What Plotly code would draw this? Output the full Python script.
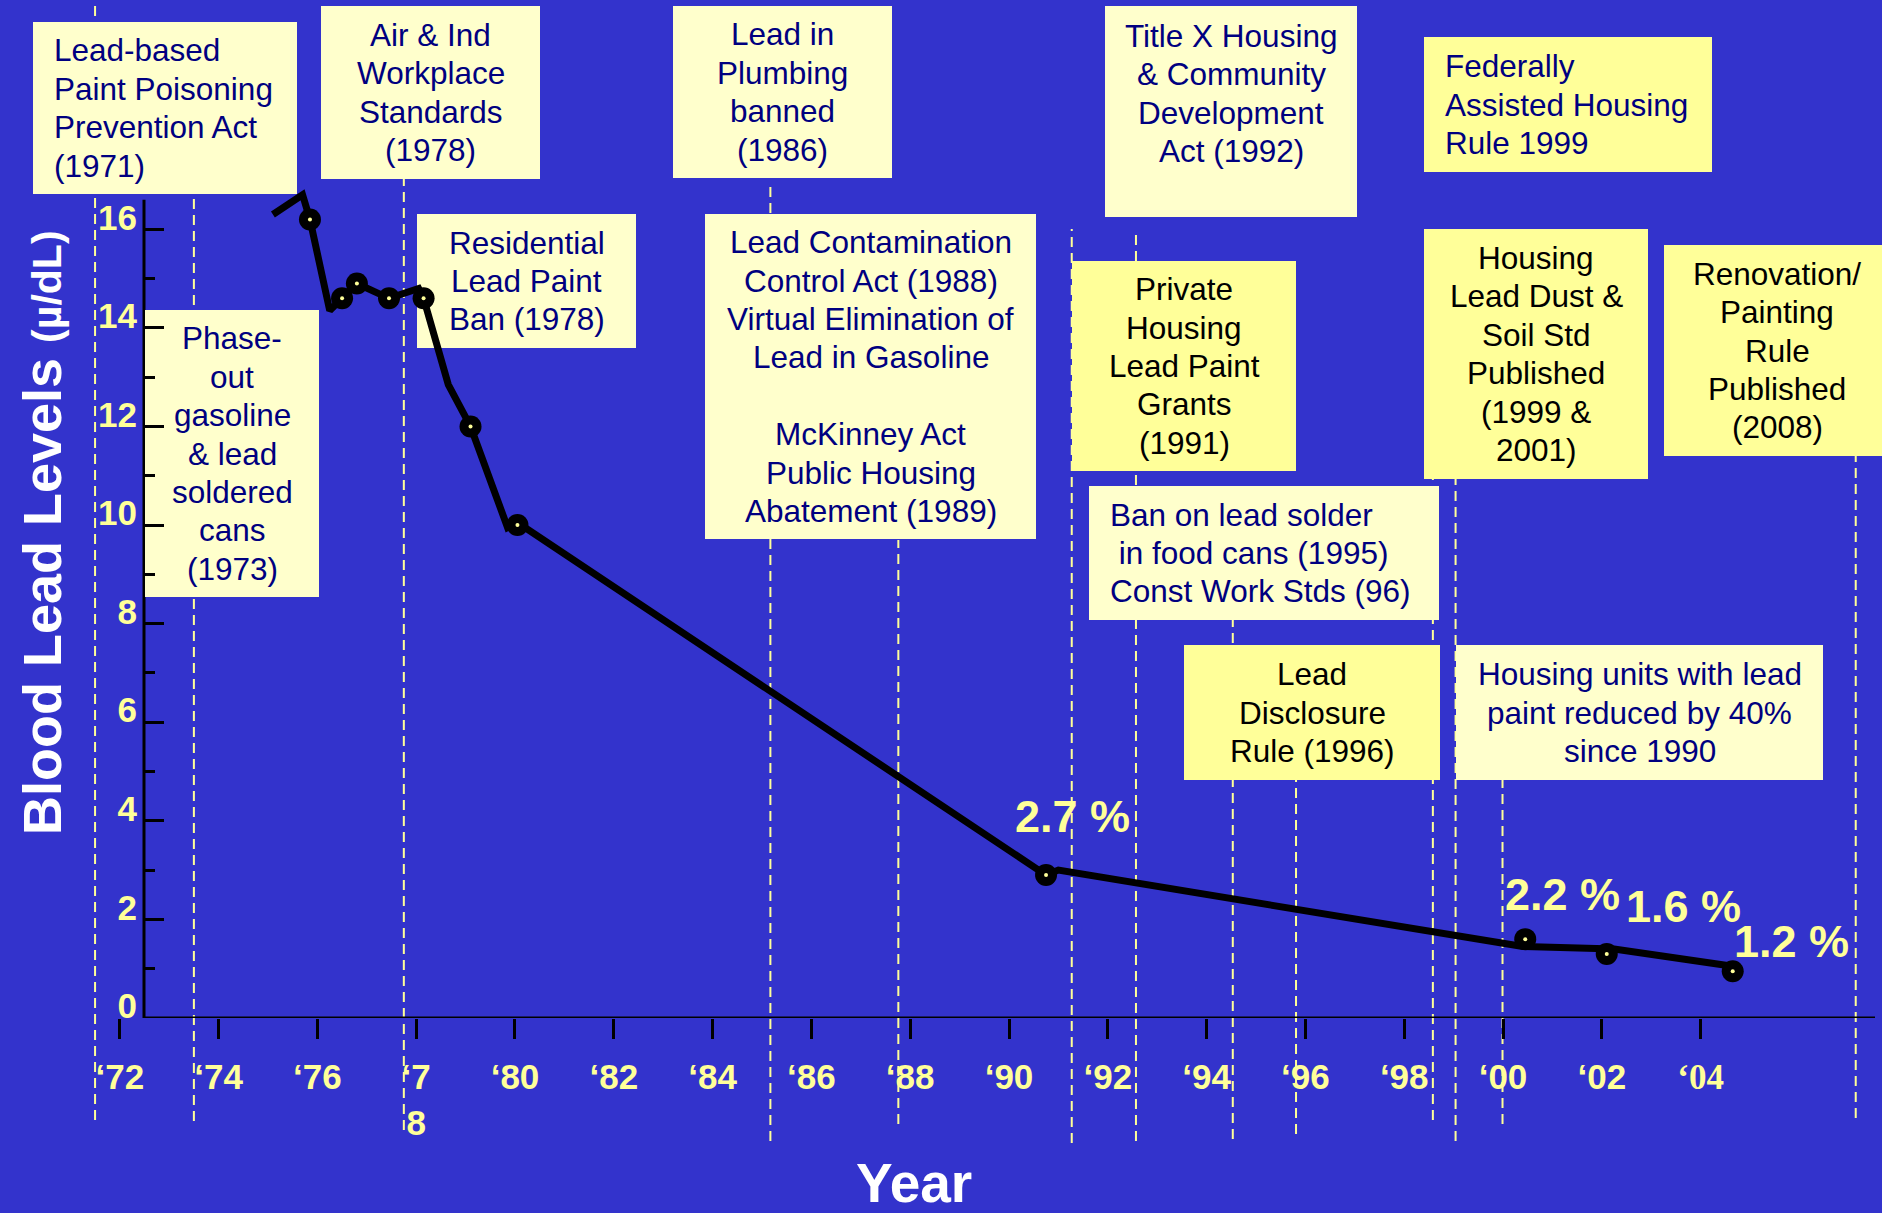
import plotly.graph_objects as go

# ---------------- data ----------------
marker_years = [1975.85, 1976.5, 1976.8, 1977.45, 1978.15, 1979.1, 1980.05,
                1990.75, 2000.45, 2002.1, 2004.65]
marker_levels = [16.2, 14.6, 14.9, 14.6, 14.6, 12.0, 10.0, 2.9, 1.6, 1.3, 0.95]

line_years = [1975.1, 1975.7, 1975.85, 1976.25, 1976.5, 1976.8, 1977.45, 1978.05,
              1978.15, 1978.65, 1979.1, 1979.85, 1980.05, 1990.75, 1991.0,
              2000.3, 2000.4, 2002.25, 2004.65]
line_levels = [16.3, 16.7, 16.2, 14.35, 14.6, 14.9, 14.6, 14.8, 14.6, 12.85, 12.0,
               9.95, 10.05, 2.9, 3.0, 1.5, 1.45, 1.4, 1.05]

pct_labels = ["2.7 %", "2.2 %", "1.6 %", "1.2 %"]
pct_marker_idx = [7, 8, 9, 10]

x_tick_years = [1972, 1974, 1976, 1978, 1980, 1982, 1984, 1986, 1988, 1990,
                1992, 1994, 1996, 1998, 2000, 2002, 2004]
x_tick_labels = ["\u201872", "\u201874", "\u201876", "\u20187<br>8", "\u201880",
                 "\u201882", "\u201884", "\u201886", "\u201888", "\u201890",
                 "\u201892", "\u201894", "\u201896", "\u201898", "\u201800",
                 "\u201802", "<span style='font-family:Liberation Serif'>\u201804</span>"]
y_tick_values = [0, 2, 4, 6, 8, 10, 12, 14, 16]
y_axis_top = 16.6

event_line_years = [1971.5, 1973.5, 1977.75, 1985.17, 1987.76, 1991.27, 1992.57,
                    1994.53, 1995.81, 1998.58, 1999.04, 1999.99, 2007.14]

event_texts = [
    ["Lead-based", "Paint Poisoning", "Prevention Act", "(1971)"],
    ["Air & Ind", "Workplace", "Standards", "(1978)"],
    ["Residential", "Lead Paint", "Ban (1978)"],
    ["Phase-", "out", "gasoline", "& lead", "soldered", "cans", "(1973)"],
    ["Lead in", "Plumbing", "banned", "(1986)"],
    ["Lead Contamination", "Control Act (1988)", "Virtual Elimination of",
     "Lead in Gasoline", "", "McKinney Act", "Public Housing", "Abatement (1989)"],
    ["Title X Housing", "& Community", "Development", "Act (1992)"],
    ["Federally", "Assisted Housing", "Rule 1999"],
    ["Private", "Housing", "Lead Paint", "Grants", "(1991)"],
    ["Housing", "Lead Dust &", "Soil Std", "Published", "(1999 &", "2001)"],
    ["Renovation/", "Painting", "Rule", "Published", "(2008)"],
    ["Ban on lead solder", "\u00a0in food cans (1995)", "Const Work Stds (96)"],
    ["Lead", "Disclosure", "Rule (1996)"],
    ["Housing units with lead", "paint reduced by 40%", "since 1990"],
]

# ---------------- layout geometry (pixels) ----------------
W, H = 1882, 1213
ML, MR, MT, MB = 60, 7, 180, 195
PW, PH = W - ML - MR, H - MT - MB


def fx(px):
    return (px - ML) / PW


def fy(py):
    return (H - MB - py) / PH


BG = "#3333CC"
PALE = "#FFFFCC"
YEL = "#FFFF99"
NAVY = "#000080"
FONT = "Liberation Sans, Arial, sans-serif"

# box: (x0, y0, x1, y1), fill, text colour, align, valign
box_styles = [
    ((33, 22, 297, 194), PALE, NAVY, "left", "middle"),
    ((321, 6, 540, 179), PALE, NAVY, "center", "middle"),
    ((417, 214, 636, 348), PALE, NAVY, "center", "middle"),
    ((145, 310, 319, 597), PALE, NAVY, "center", "middle"),
    ((673, 6, 892, 178), PALE, NAVY, "center", "middle"),
    ((705, 214, 1036, 539), PALE, NAVY, "center", "middle"),
    ((1105, 6, 1357, 217), PALE, NAVY, "center", "top"),
    ((1424, 37, 1712, 172), YEL, NAVY, "left", "middle"),
    ((1072, 261, 1296, 471), YEL, "#000000", "center", "middle"),
    ((1424, 229, 1648, 479), YEL, "#000000", "center", "middle"),
    ((1664, 245, 1890, 456), YEL, "#000000", "center", "middle"),
    ((1089, 486, 1439, 620), PALE, NAVY, "left", "middle"),
    ((1184, 645, 1440, 780), YEL, "#000000", "center", "middle"),
    ((1456, 645, 1823, 780), PALE, NAVY, "center", "middle"),
]

# dashed event lines: vertical extent in pixels (top, bottom)
line_extents = [(0, 1120), (190, 1121), (179, 1130), (182, 1141), (540, 1124),
                (229, 1143), (229, 1141), (620, 1139), (780, 1134), (479, 1120),
                (479, 1141), (780, 1124), (456, 1118)]

LINE_H = 38.4
TXT_SIZE = 31.5

fig = go.Figure()

fig.add_trace(go.Scatter(
    x=line_years, y=line_levels, mode="lines",
    line=dict(color="black", width=7), hoverinfo="skip", showlegend=False))
fig.add_trace(go.Scatter(
    x=marker_years, y=marker_levels, mode="markers",
    marker=dict(color="black", size=22), hoverinfo="skip", showlegend=False))
fig.add_trace(go.Scatter(
    x=marker_years, y=marker_levels, mode="markers",
    marker=dict(color=YEL, size=4), hoverinfo="skip", showlegend=False))

shapes = []
for yr, (t, b) in zip(event_line_years, line_extents):
    shapes.append(dict(type="line", xref="x", yref="paper", x0=yr, x1=yr,
                       y0=fy(b), y1=fy(t), layer="below",
                       line=dict(color=YEL, width=2, dash="10px,6px")))
# axis lines (x-axis starting at the y-axis, y-axis stopping below the top box)
shapes.append(dict(type="line", xref="paper", yref="y", x0=fx(144), x1=1.0,
                   y0=0, y1=0, layer="below", line=dict(color="black", width=3)))
shapes.append(dict(type="line", xref="paper", yref="y", x0=fx(144), x1=fx(144),
                   y0=0, y1=y_axis_top, layer="below",
                   line=dict(color="black", width=3)))
for (x0, y0, x1, y1), fill, _, _, _ in box_styles:
    shapes.append(dict(type="rect", xref="paper", yref="paper", layer="below",
                       x0=fx(x0), x1=fx(x1), y0=fy(y1), y1=fy(y0),
                       fillcolor=fill, line=dict(width=0)))

annotations = []
for lines, ((x0, y0, x1, y1), fill, col, align, valign) in zip(event_texts, box_styles):
    n = len(lines)
    if valign == "middle":
        cy = (y0 + y1) / 2
        ys = [cy + (i - (n - 1) / 2) * LINE_H for i in range(n)]
    else:
        ys = [y0 + 30 + i * LINE_H for i in range(n)]
    if align == "center":
        ax, xa = (x0 + x1) / 2, "center"
    else:
        ax, xa = x0 + 19, "left"
    for txt, yy in zip(lines, ys):
        if not txt:
            continue
        annotations.append(dict(
            text=txt, xref="paper", yref="paper", x=fx(ax), y=fy(yy),
            xanchor=xa, yanchor="middle", showarrow=False,
            font=dict(family=FONT, size=TXT_SIZE, color=col)))

pct_offsets = [(26, 59), (37, 45), (77, 47), (59, 30)]
for lab, idx, (dx, dy) in zip(pct_labels, pct_marker_idx, pct_offsets):
    annotations.append(dict(
        text="<b>%s</b>" % lab, x=marker_years[idx], y=marker_levels[idx],
        xref="x", yref="y", xshift=dx, yshift=dy, showarrow=False,
        xanchor="center", yanchor="middle",
        font=dict(family=FONT, size=45, color=YEL)))

annotations.append(dict(
    text="<b>Blood Lead Levels <span style='font-size:41px'>(\u00b5/dL)</span></b>",
    xref="paper", yref="paper", x=fx(42), y=fy(533), textangle=-90,
    showarrow=False, xanchor="center", yanchor="middle",
    font=dict(family=FONT, size=54, color="white")))
annotations.append(dict(
    text="<b>Year</b>", xref="paper", yref="paper", x=fx(914), y=fy(1183),
    showarrow=False, xanchor="center", yanchor="middle",
    font=dict(family=FONT, size=55, color="white")))

fig.update_layout(
    width=W, height=H, autosize=False,
    margin=dict(l=ML, r=MR, t=MT, b=MB, pad=0),
    paper_bgcolor=BG, plot_bgcolor="rgba(0,0,0,0)",
    showlegend=False,
    shapes=shapes, annotations=annotations,
    xaxis=dict(range=[1970.79, 2007.53], tickmode="array", tickvals=x_tick_years,
               ticktext=x_tick_labels, showgrid=False, zeroline=False,
               showline=False, ticks="outside", ticklen=20, tickwidth=3,
               tickcolor="black", ticklabelstandoff=8,
               tickfont=dict(family=FONT, size=35, color=YEL, weight="bold")),
    yaxis=dict(range=[0, 17], tickmode="array", tickvals=y_tick_values,
               showgrid=False, zeroline=False, showline=False,
               ticks="inside", ticklen=19, tickwidth=3,
               tickcolor="black", anchor="free", position=fx(144),
               ticklabelshift=-12, ticklabelstandoff=7,
               minor=dict(ticks="inside", ticklen=10, tickwidth=3,
                          tickcolor="black", dtick=1, tick0=0),
               tickfont=dict(family=FONT, size=35, color=YEL, weight="bold")),
)

fig.write_html("out.html", config={"displayModeBar": False},
               post_script="document.body.style.margin='0';document.body.style.overflow='hidden';")
